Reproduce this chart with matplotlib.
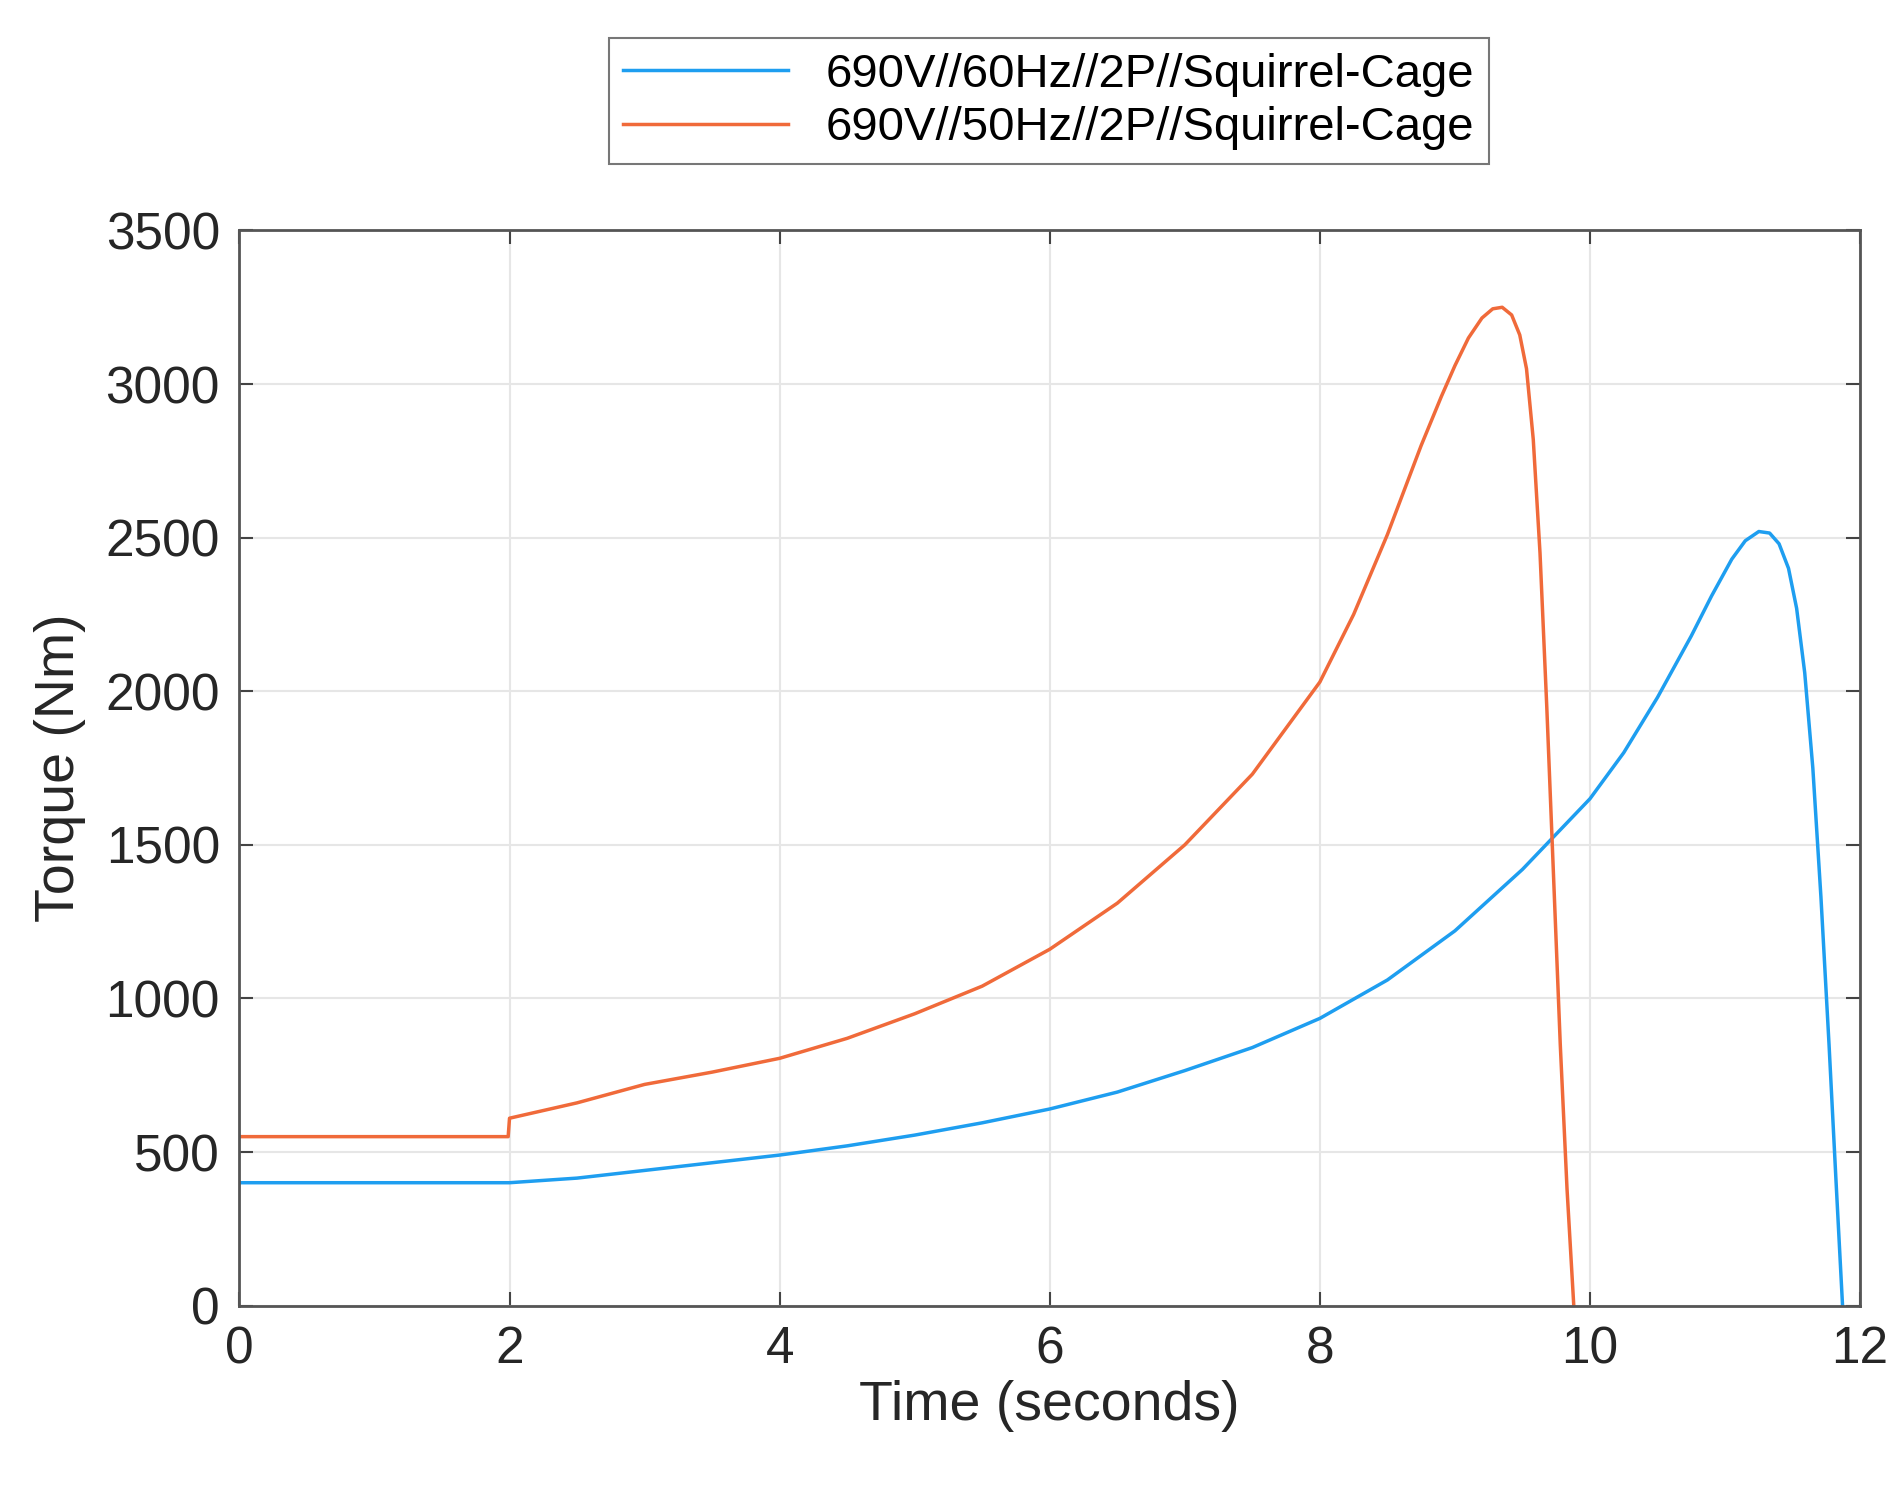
import matplotlib
matplotlib.use("Agg")
import matplotlib.pyplot as plt

t50 = [0, 1.99, 2.0, 2.5, 3, 3.5, 4, 4.5, 5, 5.5, 6, 6.5, 7, 7.5, 8, 8.25, 8.5, 8.75, 8.9, 9.0, 9.1, 9.2, 9.28, 9.35, 9.42, 9.48, 9.53, 9.58, 9.63, 9.68, 9.73, 9.78, 9.83, 9.88]
y50 = [550, 550, 610, 660, 720, 760, 805, 870, 950, 1040, 1160, 1310, 1500, 1730, 2030, 2250, 2510, 2800, 2960, 3060, 3150, 3215, 3245, 3250, 3225, 3160, 3050, 2820, 2450, 1950, 1400, 850, 380, 0]
t60 = [0, 2.0, 2.5, 3, 3.5, 4, 4.5, 5, 5.5, 6, 6.5, 7, 7.5, 8, 8.5, 9, 9.5, 10, 10.25, 10.5, 10.75, 10.9, 11.05, 11.15, 11.25, 11.33, 11.4, 11.47, 11.53, 11.59, 11.65, 11.71, 11.77, 11.82, 11.87]
y60 = [400, 400, 415, 440, 465, 490, 520, 555, 595, 640, 695, 765, 840, 935, 1060, 1220, 1420, 1650, 1800, 1980, 2180, 2310, 2430, 2490, 2520, 2515, 2480, 2400, 2270, 2060, 1750, 1330, 850, 420, 0]
labels = ["690V//60Hz//2P//Squirrel-Cage", "690V//50Hz//2P//Squirrel-Cage"]

plt.rcParams['font.family'] = ['Liberation Sans', 'DejaVu Sans']
fig = plt.figure(figsize=(19, 14.87), dpi=100)
ax = fig.add_axes([0.126, 0.122, 0.853, 0.723])
l1, = ax.plot(t60, y60, color='#1E9EF0', lw=2.5)
l2, = ax.plot(t50, y50, color='#F06A3A', lw=2.5)
ax.set_xlim(0, 12)
ax.set_ylim(0, 3500)
ax.set_xticks(range(0, 13, 2))
ax.set_yticks(range(0, 3501, 500))
ax.grid(True, color='#e6e6e6', lw=1.5)
ax.tick_params(direction='in', top=True, right=True, labelsize=37, length=10, width=1.5, colors='#444444', labelcolor='#262626', pad=14)
for s in ax.spines.values():
    s.set_color('#555555'); s.set_linewidth(2)
ax.set_xlabel("Time (seconds)", fontsize=40, color='#262626', labelpad=4)
ax.set_ylabel("Torque (Nm)", fontsize=40, color='#262626', labelpad=14)
leg = fig.legend([l1, l2], labels, loc='upper center', bbox_to_anchor=(0.552, 0.99), fontsize=34,
                 fancybox=False, edgecolor='#555555', handlelength=3.5, borderpad=0.3, labelspacing=0.2)
leg.get_frame().set_linewidth(1.5)
fig.savefig("out.png")
